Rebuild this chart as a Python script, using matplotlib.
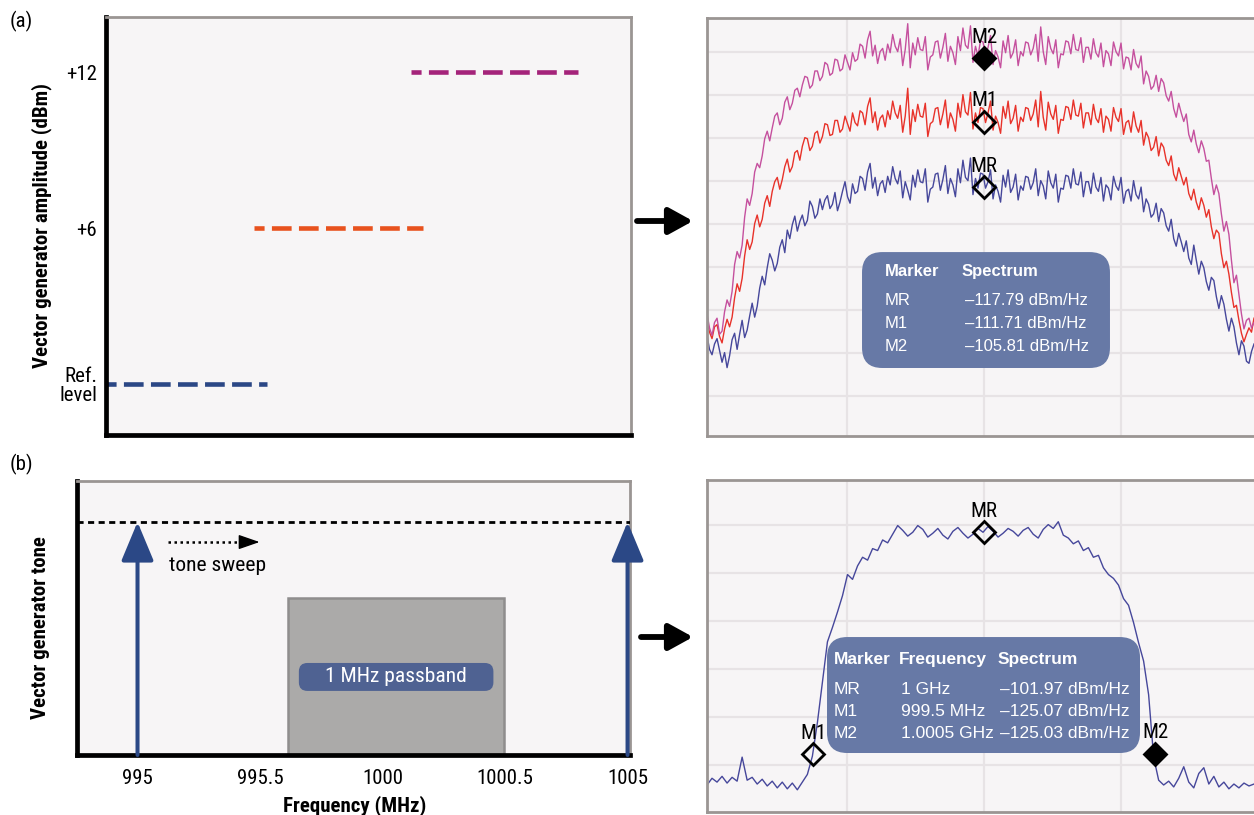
import matplotlib.pyplot as plt
import numpy as np
from matplotlib import font_manager
from matplotlib.patches import FancyBboxPatch, Rectangle, FancyArrowPatch

# look for a narrow sans (the figure uses a condensed Helvetica)
NARROW = dict(family='Liberation Sans')
NSCALE = 0.84
for pref in ['Liberation Sans Narrow', 'Arial Narrow', 'Roboto Condensed', 'DejaVu Sans',
             'Open Sans', 'Noto Sans']:
    hits = [f for f in font_manager.fontManager.ttflist
            if f.name.startswith(pref) and ('Narrow' in f.name or 'Condensed' in f.name
                                            or 'condensed' in str(f.stretch))]
    if hits:
        NARROW = dict(family=hits[0].name, stretch=hits[0].stretch)
        NSCALE = 1.0
        break
plt.rcParams['font.family'] = ['Liberation Sans', 'DejaVu Sans']

# (a) left: generator amplitude steps (dB above reference)
step_labels = ['Ref.\nlevel', '+6', '+12']
step_levels = [0, 6, 12]
step_start = [0.0, 0.282, 0.581]
step_stop = [0.307, 0.604, 0.899]
step_colors = ['#2b4785', '#e8521e', '#a4237a']

# (a) right: measured spectra, dBm/Hz, sweep points spread over 999.19 .. 1000.789 MHz
span_top = (999.19, 1000.789)
trace_mr = [
    -131.6, -132.9, -133.4, -132.4, -131.9, -133.0, -134.1, -133.2, -134.6, -133.5,
    -132.0, -131.4, -132.9, -131.5, -130.2, -131.8, -131.1, -129.8, -128.6, -129.9,
    -128.9, -127.2, -126.1, -126.9, -125.3, -124.0, -124.6, -125.6, -124.9, -123.4,
    -122.7, -123.9, -121.8, -122.6, -121.3, -120.5, -121.9, -121.0, -120.4, -121.4,
    -120.9, -119.1, -119.6, -120.7, -120.3, -118.9, -119.9, -119.0, -118.6, -119.8,
    -119.4, -118.3, -120.0, -119.2, -118.2, -117.3, -118.7, -119.3, -117.5, -118.4,
    -118.2, -116.8, -117.0, -118.1, -116.4, -115.6, -117.9, -116.9, -118.6, -117.5,
    -117.2, -118.3, -116.8, -117.6, -115.9, -117.0, -117.5, -116.3, -118.8, -117.3,
    -118.1, -119.0, -116.7, -117.8, -116.2, -117.3, -117.4, -116.1, -119.2, -118.0,
    -117.8, -116.6, -116.5, -118.1, -117.1, -115.8, -118.4, -117.0, -117.6, -118.7,
    -116.1, -117.4, -115.3, -116.9, -117.2, -115.1, -118.5, -117.0, -117.9, -116.5,
    -116.6, -117.9, -117.3, -116.2, -118.9, -117.6, -118.2, -119.2, -116.7, -117.8,
    -116.2, -118.3, -117.8, -116.6, -119.0, -117.7, -118.1, -116.8, -116.9, -118.0,
    -117.4, -116.1, -118.6, -117.2, -117.7, -118.9, -116.3, -117.4, -117.9, -116.6,
    -119.2, -117.9, -118.0, -116.7, -116.8, -117.9, -116.1, -117.5, -117.6, -116.4,
    -118.7, -117.3, -117.3, -118.4, -116.5, -117.8, -118.2, -116.9, -119.1, -117.6,
    -117.9, -119.0, -116.8, -117.7, -118.1, -116.9, -119.3, -118.2, -118.0, -119.1,
    -117.2, -118.5, -118.9, -117.8, -120.1, -118.9, -119.4, -120.6, -120.3, -119.3,
    -121.0, -119.8, -120.2, -121.4, -121.9, -120.8, -122.6, -123.3, -122.1, -122.9,
    -123.8, -122.8, -124.4, -125.0, -123.2, -124.6, -125.9, -124.7, -125.3, -126.6,
    -127.4, -126.2, -126.5, -128.0, -129.1, -127.9, -128.7, -130.1, -131.2, -130.0,
    -130.8, -132.3, -133.4, -132.1, -132.6, -134.0, -134.2, -133.1, -132.4]
trace_m1 = [
    -130.2, -131.3, -131.9, -130.8, -130.6, -131.7, -132.3, -131.0, -130.1, -130.8,
    -129.9, -128.1, -126.8, -127.5, -126.3, -124.2, -122.7, -123.6, -122.9, -121.2,
    -120.4, -121.5, -120.8, -119.3, -118.6, -119.6, -118.2, -117.3, -116.9, -118.0,
    -117.1, -115.9, -115.2, -116.4, -115.9, -114.6, -114.4, -115.3, -114.0, -113.2,
    -113.3, -114.4, -114.0, -112.8, -112.6, -113.7, -113.1, -111.9, -112.0, -113.0,
    -112.9, -111.6, -111.6, -112.7, -112.4, -111.2, -111.9, -112.6, -110.9, -111.8,
    -112.1, -110.7, -110.9, -112.0, -110.3, -109.5, -111.8, -110.8, -112.5, -111.4,
    -111.1, -112.2, -110.7, -111.5, -109.8, -110.9, -111.4, -110.2, -112.7, -111.2,
    -108.6, -112.9, -110.6, -111.7, -110.1, -111.2, -111.3, -110.0, -113.1, -111.9,
    -111.7, -110.5, -110.4, -112.0, -111.0, -109.7, -112.3, -110.9, -111.5, -112.6,
    -110.0, -111.3, -109.2, -110.8, -111.1, -109.0, -112.4, -110.9, -111.8, -110.4,
    -110.5, -111.8, -110.9, -109.8, -112.5, -111.2, -111.8, -112.8, -110.3, -111.4,
    -109.8, -111.9, -111.4, -110.2, -112.6, -111.3, -111.7, -110.4, -110.5, -111.6,
    -111.0, -109.7, -112.2, -108.9, -111.3, -112.5, -109.9, -111.0, -111.5, -110.2,
    -112.8, -111.5, -111.6, -110.3, -110.4, -111.5, -109.7, -111.1, -111.2, -110.0,
    -112.3, -110.9, -110.9, -112.0, -110.1, -111.4, -111.8, -110.5, -112.7, -111.2,
    -111.5, -112.6, -110.4, -111.3, -111.7, -110.5, -112.9, -111.8, -111.6, -112.7,
    -110.8, -112.1, -112.7, -111.6, -113.9, -112.7, -113.2, -114.4, -114.1, -113.1,
    -114.9, -113.7, -114.1, -115.3, -115.8, -114.9, -116.6, -117.2, -116.0, -116.8,
    -117.6, -116.9, -118.4, -119.0, -118.0, -119.2, -119.9, -118.8, -119.5, -120.6,
    -119.9, -121.5, -122.6, -121.8, -122.1, -124.0, -125.3, -124.7, -125.9, -127.6,
    -129.0, -128.8, -130.2, -131.4, -132.2, -131.5, -130.9, -131.3, -130.0]
trace_m2 = [
    -129.6, -130.9, -131.6, -130.4, -130.0, -131.5, -131.2, -129.4, -128.3, -128.9,
    -127.5, -125.0, -123.8, -124.4, -123.2, -120.6, -118.9, -119.5, -118.4, -116.4,
    -115.6, -116.0, -114.9, -113.3, -112.6, -113.5, -112.3, -111.2, -110.9, -112.0,
    -111.4, -109.9, -109.4, -110.6, -110.0, -108.8, -108.6, -109.4, -108.3, -107.5,
    -107.6, -108.6, -108.3, -107.0, -107.0, -107.9, -107.5, -106.2, -106.4, -107.4,
    -107.2, -105.9, -106.0, -107.0, -106.8, -105.5, -106.2, -106.9, -105.3, -106.1,
    -105.9, -104.5, -104.7, -105.8, -104.1, -103.3, -105.6, -104.6, -106.3, -105.2,
    -104.9, -106.0, -104.5, -105.3, -103.6, -104.7, -105.2, -104.0, -106.5, -105.0,
    -102.6, -106.7, -104.4, -105.5, -103.9, -105.0, -105.1, -103.8, -106.9, -105.7,
    -105.5, -104.3, -104.2, -105.8, -104.8, -103.5, -106.1, -104.7, -105.3, -106.4,
    -103.8, -105.1, -103.0, -104.6, -104.9, -102.8, -106.2, -104.7, -105.6, -104.2,
    -104.3, -105.6, -104.8, -103.7, -106.4, -105.1, -105.7, -106.7, -104.2, -105.3,
    -103.7, -105.8, -105.3, -104.1, -106.5, -105.2, -105.6, -104.3, -104.4, -105.5,
    -104.9, -103.6, -106.1, -102.9, -105.2, -106.4, -103.8, -104.9, -105.4, -104.1,
    -106.7, -105.4, -105.5, -104.2, -104.3, -105.4, -103.6, -105.0, -105.1, -103.9,
    -106.2, -104.8, -104.8, -105.9, -104.0, -105.3, -105.7, -104.4, -106.6, -105.1,
    -105.4, -106.5, -104.3, -105.2, -105.6, -104.4, -106.8, -105.7, -105.8, -106.9,
    -105.0, -106.3, -106.7, -105.6, -108.2, -107.0, -107.5, -108.7, -108.4, -107.4,
    -108.9, -107.7, -108.1, -109.3, -109.8, -108.9, -110.5, -111.3, -110.0, -110.9,
    -111.7, -111.0, -112.9, -113.6, -112.5, -113.8, -114.6, -113.5, -114.2, -115.4,
    -115.3, -117.0, -118.5, -117.6, -118.4, -120.3, -121.9, -121.0, -122.2, -124.6,
    -126.7, -126.0, -127.8, -129.6, -131.0, -130.2, -130.0, -130.9, -130.4]
top_markers = ['MR', 'M1', 'M2']
top_marker_freq = [1000.0, 1000.0, 1000.0]
top_marker_level = [-117.79, -111.71, -105.81]
top_marker_filled = [False, False, True]

# (b) left: swept tone
tone_ticks = ['995', '995.5', '1000', '1000.5', '1005']
tone_pos = [0, 4]
tone_level = 1.0
passband = (1.23, 2.99)
passband_top = 0.674

# (b) right: measured spectrum of the tone sweep
trace_b = [
    -128.3, -127.6, -128.0, -127.4, -128.1, -127.5, -127.9, -125.4, -127.8, -127.5,
    -128.2, -127.7, -128.4, -127.9, -128.6, -128.0, -128.7, -128.1, -128.8, -128.0,
    -127.2, -125.3, -121.8, -117.6, -113.4, -111.9, -110.3, -108.6, -106.4, -106.9,
    -105.5, -104.6, -104.9, -103.7, -103.9, -102.8, -103.1, -102.2, -101.3, -101.8,
    -102.4, -102.0, -101.3, -101.7, -102.5, -102.1, -101.6, -102.3, -102.7, -101.9,
    -101.5, -102.1, -102.6, -102.2, -101.6, -102.0, -101.4, -101.9, -102.5, -102.1,
    -101.6, -101.9, -102.4, -101.8, -101.5, -102.2, -102.6, -101.7, -101.2, -101.6,
    -100.9, -102.3, -102.6, -103.2, -102.9, -103.9, -103.6, -104.6, -104.4, -105.7,
    -106.4, -106.8, -107.5, -108.9, -109.6, -111.4, -113.5, -115.4, -118.9, -125.4,
    -127.8, -128.3, -127.9, -128.5, -127.6, -126.4, -128.0, -128.6, -127.1, -126.5,
    -128.2, -127.4, -128.5, -128.0, -128.7, -128.2, -128.6, -128.1, -128.4, -128.2]
bot_markers = ['MR', 'M1', 'M2']
bot_marker_freq = [1000.0, 999.5, 1000.5]
bot_marker_freq_txt = ['1 GHz', '999.5 MHz', '1.0005 GHz']
bot_marker_level = [-101.97, -125.07, -125.03]
bot_marker_filled = [False, False, True]

W, H = 1254, 815
fig = plt.figure(figsize=(W / 100, H / 100), dpi=100)


def place(l, t, r, b):
    return [l / W, 1 - b / H, (r - l) / W, (b - t) / H]


def frame(ax, heavy):
    for s in ax.spines.values():
        s.set_color('#9a9593')
        s.set_linewidth(2)
    if heavy:
        for s in ('left', 'bottom'):
            ax.spines[s].set_color('black')
            ax.spines[s].set_linewidth(3.4)


face = '#f7f5f6'
fs = 15 * NSCALE

# ---------- (a) left
ax_a = fig.add_axes(place(106, 17, 631, 435))
ax_a.set_facecolor(face)
for lvl, x0, x1, c in zip(step_levels, step_start, step_stop, step_colors):
    ax_a.plot([x0, x1], [lvl, lvl], color=c, lw=3.3, ls=(2.1, (4.3, 1.6)),
              dash_capstyle='butt')
ax_a.set_xlim(0, 1)
ax_a.set_ylim(-1.96, 14.12)
ax_a.set_xticks([])
ax_a.set_yticks(step_levels, step_labels)
ax_a.tick_params(axis='y', length=0, pad=6.5, labelsize=fs)
for t in ax_a.get_yticklabels():
    t.set(**NARROW)
    t.set_linespacing(1.0)
frame(ax_a, True)
ax_a.text(-0.1229, 0.5, 'Vector generator amplitude (dBm)', rotation=90,
          ha='center', va='center', fontsize=fs, weight='bold',
          transform=ax_a.transAxes, **NARROW)

# ---------- (b) left
ax_b = fig.add_axes(place(77, 481, 630, 755))
ax_b.set_facecolor(face)
ax_b.set_xlim(-0.494, 4.02)
ax_b.set_ylim(0, 1.176)
ax_b.add_patch(Rectangle((passband[0], 0), passband[1] - passband[0], passband_top,
                         fc='#abaaa9', ec='#8f8d8d', lw=1.8, zorder=2))
pb_l, pb_r = passband[0] + 0.087, passband[1] - 0.085
ax_b.add_patch(FancyBboxPatch((pb_l, 0.275), pb_r - pb_l, 0.12,
                              boxstyle='round,pad=0,rounding_size=0.07',
                              mutation_aspect=121.5 / 233, fc='#4f6292', ec='none', zorder=3))
ax_b.text((pb_l + pb_r) / 2, 0.335, '1 MHz passband', ha='center', va='center',
          color='white', fontsize=fs * 1.03, zorder=4, **NARROW)
ax_b.axhline(tone_level, color='black', lw=2, ls=(0, (2.2, 1.6)), zorder=3)
for x in tone_pos:
    ax_b.annotate('', xy=(x, tone_level), xytext=(x, 0),
                  arrowprops=dict(arrowstyle='-|>,head_length=2.4,head_width=1.0',
                                  color='#2b4886', lw=2.9, shrinkA=0, shrinkB=0),
                  zorder=5)
# dotted "tone sweep" arrow: dotted shaft, solid head
ax_b.plot([0.247, 0.86], [0.914, 0.914], color='black', lw=1.8, ls=(0, (1.0, 1.4)))
ax_b.annotate('', xy=(0.996, 0.914), xytext=(0.85, 0.914),
              arrowprops=dict(arrowstyle='-|>,head_length=1.3,head_width=0.45',
                              color='black', lw=1.0, shrinkA=0, shrinkB=0))
ax_b.text(0.258, 0.791, 'tone sweep', ha='left', va='baseline', fontsize=fs * 1.03,
          **NARROW)
ax_b.set_xticks(range(len(tone_ticks)), tone_ticks)
ax_b.set_yticks([])
ax_b.tick_params(axis='x', length=0, pad=10, labelsize=fs)
for t in ax_b.get_xticklabels():
    t.set(**NARROW)
frame(ax_b, True)
ax_b.text(-0.0658, 0.4635, 'Vector generator tone', rotation=90, ha='center',
          va='center', fontsize=fs, weight='bold', transform=ax_b.transAxes, **NARROW)
ax_b.text(0.5022, -0.2044, 'Frequency (MHz)', ha='center', va='baseline',
          fontsize=fs, weight='bold', transform=ax_b.transAxes, **NARROW)


def spectrum_axes(rect, ylim, yg):
    ax = fig.add_axes(rect)
    ax.set_facecolor(face)
    ax.set_xlim(*span_top)
    ax.set_ylim(*ylim)
    ax.set_xticks([999.6, 1000.0, 1000.4])
    ax.set_yticks(yg)
    ax.tick_params(length=0, labelbottom=False, labelleft=False)
    ax.grid(True, color='#e7e3e5', lw=1.6)
    ax.set_axisbelow(True)
    frame(ax, False)
    ax.spines['right'].set_visible(False)
    return ax


def trace(ax, values, color):
    f = np.linspace(span_top[0], span_top[1], len(values))
    ax.plot(f, values, color=color, lw=1.0)


def markers(ax, fr, lv, lab, filled):
    for f, v, n, fl in zip(fr, lv, lab, filled):
        ax.plot(f, v, 'D', ms=11.5, mew=2, mec='black',
                mfc='black' if fl else 'none', zorder=6)
        ax.annotate(n, (f, v), xytext=(0, 11), textcoords='offset points',
                    ha='center', va='baseline', fontsize=fs, zorder=6, **NARROW)


def rounded(ax, x, y, w, h, asp):
    ax.add_patch(FancyBboxPatch((x, y), w, h, transform=ax.transAxes,
                                boxstyle='round,pad=0,rounding_size=0.037',
                                mutation_aspect=asp, fc='#6779a6', ec='none', zorder=7))


# ---------- (a) right
ax_c = spectrum_axes(place(707, 18, 1254, 436), (-140.96, -102.07),
                     np.arange(-137.24, -104, 4))
trace(ax_c, trace_mr, '#46479b')
trace(ax_c, trace_m1, '#e8322a')
trace(ax_c, trace_m2, '#c5509e')
markers(ax_c, top_marker_freq, top_marker_level, top_markers, top_marker_filled)
rounded(ax_c, 0.2834, 0.1627, 0.4533, 0.2773, 547 / 418)
tk = dict(transform=ax_c.transAxes, color='white', fontsize=12, va='baseline', zorder=8)
ax_c.text(0.3254, 0.3828, 'Marker', weight='bold', **tk)
ax_c.text(0.4662, 0.3828, 'Spectrum', weight='bold', **tk)
for n, v, y in zip(top_markers, top_marker_level, [0.3134, 0.2576, 0.2041]):
    ax_c.text(0.3254, y, n, **tk)
    ax_c.text(0.4717, y, '\u2013%.2f dBm/Hz' % abs(v), **tk)

# ---------- (b) right
ax_d = spectrum_axes(place(707, 480, 1254, 812), (-131.11, -96.56),
                     np.arange(-126.24, -100, 5))
trace(ax_d, trace_b, '#46479b')
markers(ax_d, bot_marker_freq, bot_marker_level, bot_markers, bot_marker_filled)
rounded(ax_d, 0.2194, 0.1777, 0.5722, 0.3493, 547 / 332)
tk = dict(transform=ax_d.transAxes, color='white', fontsize=12.5, va='baseline', zorder=8)
ax_d.text(0.2322, 0.4458, 'Marker', weight='bold', **tk)
ax_d.text(0.351, 0.4458, 'Frequency', weight='bold', **tk)
ax_d.text(0.532, 0.4458, 'Spectrum', weight='bold', **tk)
for n, ft, v, y in zip(bot_markers, bot_marker_freq_txt, bot_marker_level,
                       [0.3554, 0.2892, 0.222]):
    ax_d.text(0.2322, y, n, **tk)
    ax_d.text(0.3547, y, ft, **tk)
    ax_d.text(0.7733, y, '\u2013%.2f dBm/Hz' % abs(v), ha='right', **tk)

# ---------- connecting arrows and panel tags
for x0, x1, y in [(637, 693, 221), (641, 693, 637)]:
    fig.add_artist(FancyArrowPatch((x0 / W, 1 - y / H), (x1 / W, 1 - y / H),
                                   transform=fig.transFigure,
                                   arrowstyle='-|>,head_length=1.45,head_width=0.8',
                                   mutation_scale=10, lw=4.2, color='black',
                                   shrinkA=0, shrinkB=0))
fig.text(10 / W, 1 - 21 / H, '(a)', ha='left', va='center', fontsize=fs, **NARROW)
fig.text(10 / W, 1 - 464 / H, '(b)', ha='left', va='center', fontsize=fs, **NARROW)

fig.savefig('out.png', dpi=100, facecolor='white')
